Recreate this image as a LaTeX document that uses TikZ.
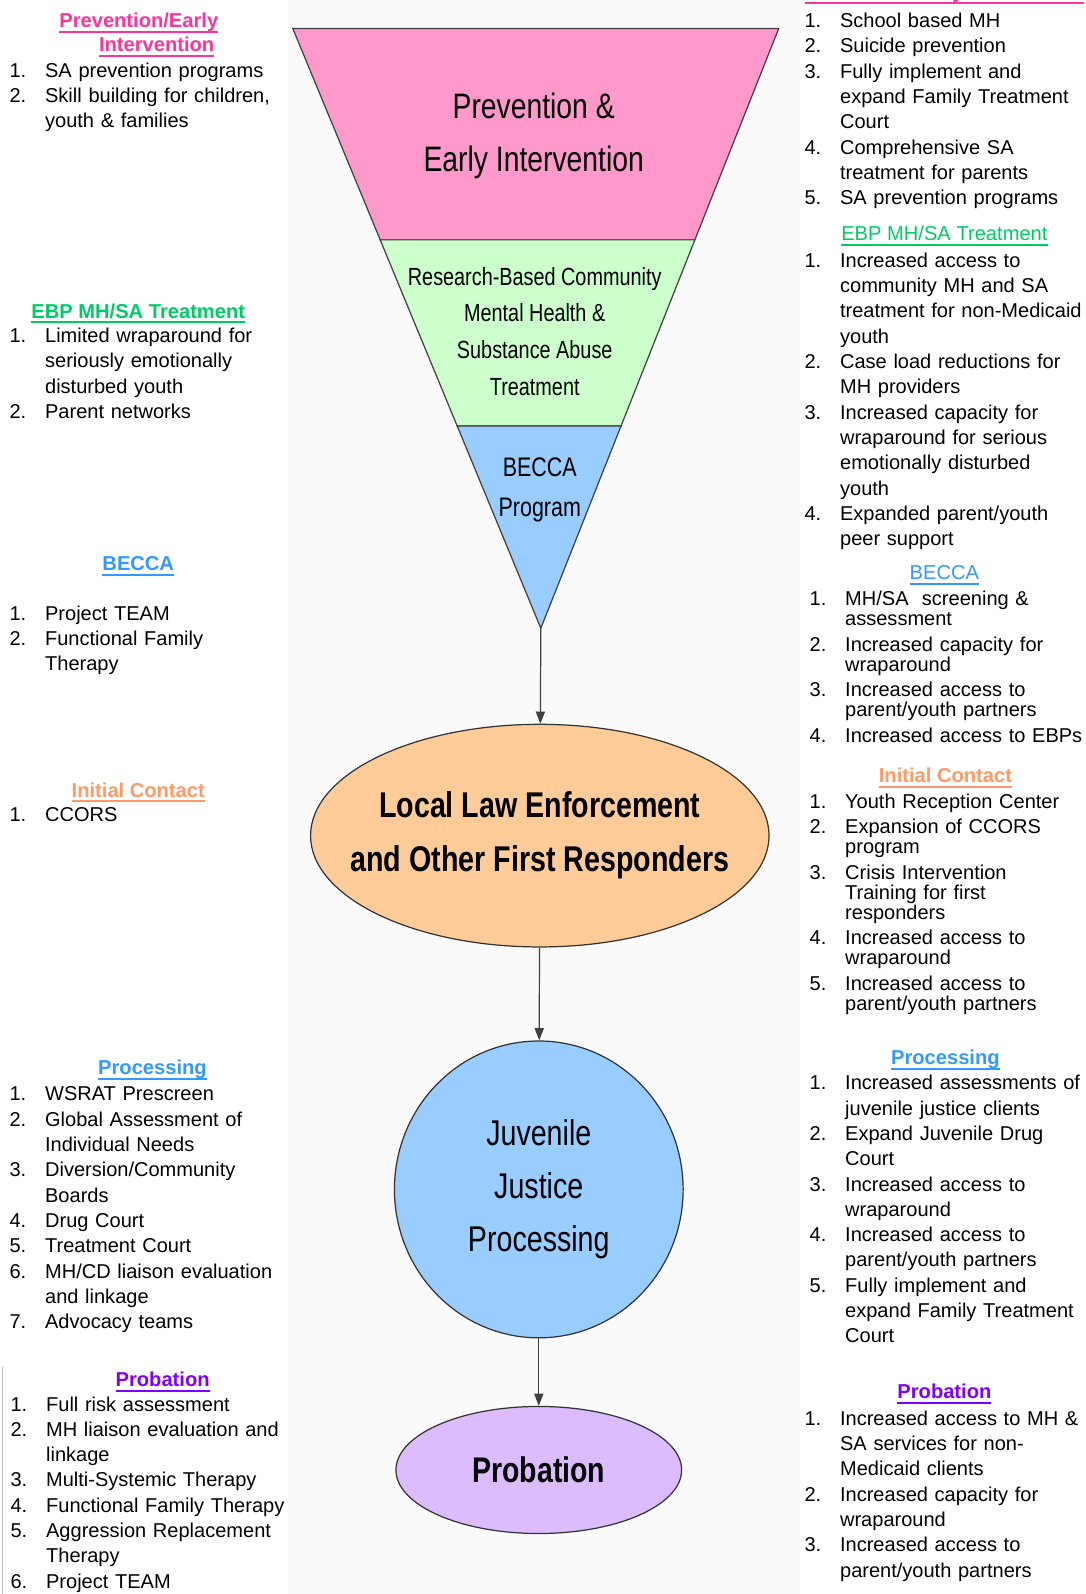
\documentclass[tikz,border=0pt]{standalone}
\usepackage{fontspec}
\setmainfont{Liberation Sans}
\newfontfamily\narrowfont[FakeStretch=0.8]{Liberation Sans}
\usetikzlibrary{shapes.geometric,arrows.meta,calc}

\definecolor{pinkhd}{HTML}{FF3399}
\definecolor{greenhd}{HTML}{00CC66}
\definecolor{bluehd}{HTML}{3399FF}
\definecolor{orangehd}{HTML}{FF9966}
\definecolor{purplehd}{HTML}{8000FF}
\definecolor{pinkband}{HTML}{FF99CC}
\definecolor{greenband}{HTML}{CCFFCC}
\definecolor{blueband}{HTML}{99CCFF}
\definecolor{orangefill}{HTML}{FFCC99}
\definecolor{lilacfill}{HTML}{DDBBFF}

\newlength\numw
\setlength\numw{17.5pt}
% numbered entry with hanging indent
\newcommand\entry[2]{\hangindent=\numw\hangafter=1\noindent\makebox[\numw][l]{#1}#2\par}
% line breaks inside an entry (normal and tight)
\newcommand\br{\hfil\break}
\newcommand\tbr{\vadjust{\vskip-2.9pt}\hfil\break}
% thick coloured underline
\newcommand\hul[1]{\setbox0\hbox{#1}\rlap{\rule[-2.6pt]{\wd0}{1pt}}\box0}

\tikzset{
  head/.style={anchor=base, inner sep=0pt, font=\fontsize{9.9}{12}\selectfont\bfseries},
  headr/.style={anchor=base, inner sep=0pt, font=\fontsize{9.9}{12}\selectfont},
  list/.style={anchor=base west, inner sep=0pt, text width=140pt, align=left,
    font=\fontsize{9.85}{12.45}\selectfont},
  tightlist/.style={list, font=\fontsize{9.85}{12.65}\selectfont},
  stage/.style={ellipse, draw=black!80, line width=0.6pt, inner sep=0pt, align=center},
  flow/.style={draw=black!75, line width=0.6pt, -{Triangle[length=6pt,width=4.5pt]}}
}

\begin{document}
\begin{tikzpicture}[x=0.5pt,y=-0.5pt]

        \useasboundingbox (0,0) rectangle (1068,1568);
        \fill[black!2] (283,0) rectangle (787,1568);
        \draw[black!25, line width=0.5pt] (2,1345) -- (2,1568);

        % the funnel
        \coordinate (tl) at (288,28);
        \coordinate (tr) at (766,28);
        \coordinate (apex) at (532,618);
        \coordinate (m1l) at ($(tl)!0.3525!(apex)$);
        \coordinate (m1r) at ($(tr)!0.3525!(apex)$);
        \coordinate (m2l) at ($(tl)!0.6627!(apex)$);
        \coordinate (m2r) at ($(tr)!0.6627!(apex)$);

        \begin{scope}[draw=black!75, line width=0.6pt, line join=miter]
          \filldraw[fill=pinkband] (tl) -- (tr) -- (m1r) -- (m1l) -- cycle;
          \filldraw[fill=greenband] (m1l) -- (m1r) -- (m2r) -- (m2l) -- cycle;
          \filldraw[fill=blueband] (m2l) -- (m2r) -- (apex) -- cycle;
        \end{scope}

        \node[font=\narrowfont\fontsize{17.4}{26}\selectfont, align=center] (tPrev) at (525,134) {Prevention \&\\Early Intervention};
        \node[font=\narrowfont\fontsize{12.2}{18}\selectfont, align=center] (tComm) at (526,326) {Research-Based Community\\Mental Health \&\\Substance Abuse\\Treatment};
        \node[font=\narrowfont\fontsize{13.2}{20}\selectfont, align=center] (tBecca) at (531,482) {BECCA\\Program};

        % the stages
        \node[stage, fill=orangefill, inner xsep=-30pt, minimum width=225.5pt, minimum height=109.5pt,
              font=\narrowfont\bfseries\fontsize{17.6}{26.5}\selectfont] (law) at (531,822) {Local Law Enforcement\\and Other First Responders};
        \node[stage, fill=blueband, minimum width=142pt, minimum height=146pt,
              font=\narrowfont\fontsize{17.6}{26}\selectfont] (jjp) at (530,1170) {Juvenile\\Justice\\Processing};
        \node[stage, fill=lilacfill, minimum width=140.5pt, minimum height=62.5pt,
              font=\narrowfont\bfseries\fontsize{17.5}{20}\selectfont] (prob) at (530,1446) {Probation};

        \draw[flow] (apex) -- (law);
        \draw[flow] (law) -- (jjp);
        \draw[flow] (jjp) -- (prob);

        % headings, left
        \begin{scope}[every node/.append style={head}]
          \node[text=pinkhd, anchor=base west] (hPrevA) at (58,27) {\hul{Prevention/Early}};
          \node[text=pinkhd, anchor=base west] (hPrevB) at (97,51) {\hul{Intervention}};
          \node[text=greenhd] (hEbpL) at (136,313) {\hul{EBP MH/SA Treatment}};
          \node[text=bluehd] (hBeccaL) at (136,561) {\hul{BECCA}};
          \node[text=orangehd] (hContL) at (136,784) {\hul{Initial Contact}};
          \node[text=bluehd] (hProcL) at (150,1057) {\hul{Processing}};
          \node[text=purplehd] (hProbL) at (160,1364) {\hul{Probation}};
        \end{scope}

        % headings, right
        \node[head, text=pinkhd] (hPrevR) at (929,-1) {\hul{Prevention/Early Intervention}};
        \node[headr, text=greenhd] (hEbpR) at (929,237) {\hul{EBP MH/SA Treatment}};
        \node[headr, text=bluehd] (hBeccaR) at (929,570) {\hul{BECCA}};
        \node[head, text=orangehd] (hContR) at (930,770) {\hul{Initial Contact}};
        \node[head, text=bluehd] (hProcR) at (930,1047) {\hul{Processing}};
        \node[head, text=purplehd] (hProbR) at (929,1376) {\hul{Probation}};

        % lists, left
        \node[list] (lPrevL) at (9,76) {\entry{1.}{SA prevention programs}\entry{2.}{Skill building for children,\br youth \& families}};
        \node[list] (lEbpL) at (9,337) {\entry{1.}{Limited wraparound for\br seriously emotionally\br disturbed youth}\entry{2.}{Parent networks}};
        \node[list] (lBeccaL) at (9,610) {\entry{1.}{Project TEAM}\entry{2.}{Functional Family\br Therapy}};
        \node[list] (lContL) at (9,808) {\entry{1.}{CCORS}};
        \node[list] (lProcL) at (9,1083) {\entry{1.}{WSRAT Prescreen}\entry{2.}{Global Assessment of\br Individual Needs}%
          \entry{3.}{Diversion/Community\br Boards}\entry{4.}{Drug Court}\entry{5.}{Treatment Court}%
          \entry{6.}{MH/CD liaison evaluation\br and linkage}\entry{7.}{Advocacy teams}};
        \node[list] (lProbL) at (10,1388) {\entry{1.}{Full risk assessment}\entry{2.}{MH liaison evaluation and\br linkage}%
          \entry{3.}{Multi-Systemic Therapy}\entry{4.}{Functional Family Therapy}%
          \entry{5.}{Aggression Replacement\br Therapy}\entry{6.}{Project TEAM}};

        % lists, right
        \node[list] (lPrevR) at (791,27) {\entry{1.}{School based MH}\entry{2.}{Suicide prevention}%
          \entry{3.}{Fully implement and\br expand Family Treatment\br Court}\entry{4.}{Comprehensive SA\br treatment for parents}%
          \entry{5.}{SA prevention programs}};
        \node[list] (lEbpR) at (791,263) {\entry{1.}{Increased access to\br community MH and SA\br treatment for non-Medicaid\br youth}%
          \entry{2.}{Case load reductions for\br MH providers}%
          \entry{3.}{Increased capacity for\br wraparound for serious\br emotionally disturbed\br youth}%
          \entry{4.}{Expanded parent/youth\br peer support}};
        \node[tightlist] (lBeccaR) at (796,596) {\entry{1.}{MH/SA\ \ screening \&\tbr assessment}%
          \entry{2.}{Increased capacity for\tbr wraparound}\entry{3.}{Increased access to\tbr parent/youth partners}%
          \entry{4.}{Increased access to EBPs}};
        \node[tightlist] (lContR) at (796,795) {\entry{1.}{Youth Reception Center}\entry{2.}{Expansion of CCORS\tbr program}%
          \entry{3.}{Crisis Intervention\tbr Training for first\tbr responders}%
          \entry{4.}{Increased access to\tbr wraparound}\entry{5.}{Increased access to\tbr parent/youth partners}};
        \node[list] (lProcR) at (796,1072) {\entry{1.}{Increased assessments of\br juvenile justice clients}%
          \entry{2.}{Expand Juvenile Drug\br Court}\entry{3.}{Increased access to\br wraparound}%
          \entry{4.}{Increased access to\br parent/youth partners}\entry{5.}{Fully implement and\br expand Family Treatment\br Court}};
        \node[list] (lProbR) at (791,1402) {\entry{1.}{Increased access to MH \&\br SA services for non-\br Medicaid clients}%
          \entry{2.}{Increased capacity for\br wraparound}\entry{3.}{Increased access to\br parent/youth partners}};

\end{tikzpicture}
\end{document}
